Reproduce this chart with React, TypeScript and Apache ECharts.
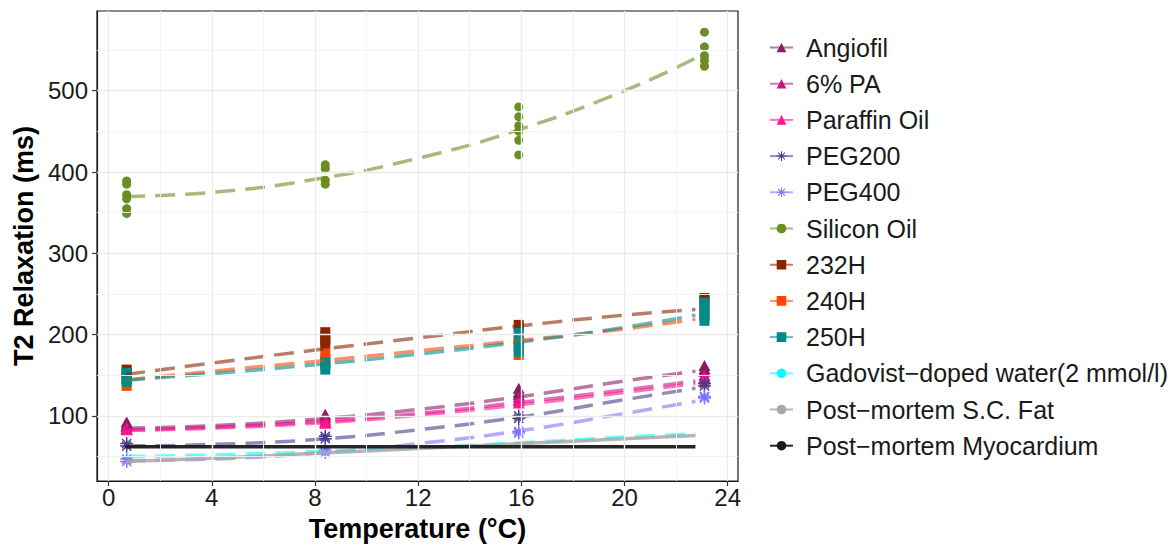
import React, { useEffect, useRef } from "react";
import * as echarts from "echarts";

// ---------- data ----------
const temps = [0.7, 8.4, 15.9, 23.1];
const fitX = [0.65, 4, 8, 12, 16, 20, 22.75];

const xTicks = [0, 4, 8, 12, 16, 20, 24];
const xMinor = [2, 6, 10, 14, 18, 22];
const yTicks = [100, 200, 300, 400, 500];
const yMinor = [50, 150, 250, 350, 450, 550];

// replicate measurements per temperature
const angiofilPts = [[93, 90, 88], [102, 99], [134, 129, 126], [162, 158, 155]];
const pa6Pts = [[87, 85], [96, 93], [123, 120], [150, 147]];
const paraffinPts = [[84, 83], [93, 91], [119, 116], [146, 143]];
const peg200Pts = [[66, 63], [75, 72], [100, 97], [140, 137]];
const peg400Pts = [[47, 44], [58, 55], [81, 79], [124, 122]];
const siliconPts = [
  [389, 385, 372, 367, 355, 349],
  [409, 404, 390, 385],
  [480, 468, 457, 450, 439, 421],
  [572, 554, 543, 537, 530],
];
const h232Pts = [[157, 153], [203, 198, 193, 188], [212, 209], [245, 242]];
const h240Pts = [[137, 145], [177, 170, 165], [175, 185, 192], [230, 222]];
const h250Pts = [[153, 149, 145, 142], [166, 162, 157], [202, 195, 187, 179], [239, 232, 225, 217]];

// fitted curves sampled at fitX
const angiofilFit = [85, 88, 96, 108, 124, 143, 155];
const pa6Fit = [83, 86, 93, 103, 117, 132, 143];
const paraffinFit = [82, 85, 91, 101, 114, 129, 140];
const peg200Fit = [63, 65, 71, 83, 99, 120, 134];
const peg400Fit = [45, 47, 54, 66, 82, 103, 118];
const siliconFit = [370, 375, 391, 417, 453, 500, 540];
const h232Fit = [151, 165, 181, 196, 211, 224, 231];
const h240Fit = [144, 155, 167, 180, 193, 207, 219];
const h250Fit = [144, 152, 163, 176, 191, 209, 224];
const gadovistFit = [50, 52, 56, 61, 67, 74, 78];
const fatFit = [44, 48, 54, 60, 66, 72, 76];
const myocardiumFit = [62, 62, 62, 62, 62, 62, 62];

const STAR =
  "path://M10.7 0H13.3V24H10.7Z M0 10.7H24V13.3H0Z M4.42 2.58L21.42 19.58L19.58 21.42L2.58 4.42Z M21.42 4.42L4.42 21.42L2.58 19.58L19.58 2.58Z";

type Mat = {
  name: string;
  color: string;
  symbol: string;
  size: number | number[];
  pts: number[][] | null;
  fit: number[];
  dashed: boolean;
  lineOpacity: number;
};

const materials: Mat[] = [
  { name: "Angiofil", color: "#8B1C62", symbol: "triangle", size: [12, 11], pts: angiofilPts, fit: angiofilFit, dashed: true, lineOpacity: 0.6 },
  { name: "6% PA", color: "#C71585", symbol: "triangle", size: [12, 11], pts: pa6Pts, fit: pa6Fit, dashed: true, lineOpacity: 0.6 },
  { name: "Paraffin Oil", color: "#FF1493", symbol: "triangle", size: [12, 11], pts: paraffinPts, fit: paraffinFit, dashed: true, lineOpacity: 0.6 },
  { name: "PEG200", color: "#483D8B", symbol: STAR, size: 13, pts: peg200Pts, fit: peg200Fit, dashed: true, lineOpacity: 0.6 },
  { name: "PEG400", color: "#8470FF", symbol: STAR, size: 13, pts: peg400Pts, fit: peg400Fit, dashed: true, lineOpacity: 0.6 },
  { name: "Silicon Oil", color: "#6B8E23", symbol: "circle", size: 9, pts: siliconPts, fit: siliconFit, dashed: true, lineOpacity: 0.6 },
  { name: "232H", color: "#8B2500", symbol: "rect", size: 10, pts: h232Pts, fit: h232Fit, dashed: true, lineOpacity: 0.6 },
  { name: "240H", color: "#FF4500", symbol: "rect", size: 10, pts: h240Pts, fit: h240Fit, dashed: true, lineOpacity: 0.6 },
  { name: "250H", color: "#008B8B", symbol: "rect", size: 10, pts: h250Pts, fit: h250Fit, dashed: true, lineOpacity: 0.6 },
  { name: "Gadovist\u2212doped water(2 mmol/l)", color: "#00FFFF", symbol: "circle", size: 6, pts: null, fit: gadovistFit, dashed: true, lineOpacity: 0.6 },
  { name: "Post\u2212mortem S.C. Fat", color: "#A9A9A9", symbol: "circle", size: 6, pts: null, fit: fatFit, dashed: false, lineOpacity: 0.85 },
  { name: "Post\u2212mortem Myocardium", color: "#1A1A1A", symbol: "circle", size: 6, pts: null, fit: myocardiumFit, dashed: false, lineOpacity: 0.95 },
];

const FONT = "'Liberation Sans', Arial, Helvetica, sans-serif";

export default function App() {
  const ref = useRef<HTMLDivElement>(null);
  useEffect(() => {
    if (!ref.current) return;
    const chart = echarts.init(ref.current, null, { renderer: "svg" });

    const series: any[] = [];
    // gridlines
    const major = { color: "#EBEBEB", width: 1.4, type: "solid" };
    const minor = { color: "#F2F2F2", width: 0.9, type: "solid" };
    series.push({
      type: "line",
      name: "__grid",
      data: [],
      z: 0,
      silent: true,
      markLine: {
        silent: true,
        symbol: "none",
        animation: false,
        label: { show: false },
        emphasis: { disabled: true },
        data: [
          ...xMinor.map((v) => ({ xAxis: v, lineStyle: minor })),
          ...yMinor.map((v) => ({ yAxis: v, lineStyle: minor })),
          ...xTicks.map((v) => ({ xAxis: v, lineStyle: major })),
          ...yTicks.map((v) => ({ yAxis: v, lineStyle: major })),
        ],
      },
    });

    materials.forEach((m) => {
      series.push({
        type: "line",
        name: m.name,
        data: fitX.map((x, i) => [x, m.fit[i]]),
        smooth: true,
        showSymbol: false,
        symbol: m.symbol,
        symbolSize: m.size,
        itemStyle: { color: m.color },
        lineStyle: {
          color: m.color,
          width: 3.5,
          opacity: m.lineOpacity,
          type: m.dashed ? [20, 10] : "solid",
          cap: "butt",
        },
        emphasis: { disabled: true },
        z: 3,
      });
    });
    materials.forEach((m) => {
      if (!m.pts) return;
      const data: number[][] = [];
      m.pts.forEach((arr, i) => arr.forEach((v) => data.push([temps[i], v])));
      series.push({
        type: "scatter",
        name: m.name,
        data,
        symbol: m.symbol,
        symbolSize: m.size,
        itemStyle: { color: m.color, opacity: 1 },
        emphasis: { disabled: true },
        z: 2,
      });
    });

    chart.setOption({
      animation: false,
      backgroundColor: "#ffffff",
      textStyle: { fontFamily: FONT },
      grid: {
        left: 97,
        top: 11,
        width: 641,
        height: 470,
        show: true,
        borderColor: "#1A1A1A",
        borderWidth: 1.2,
        backgroundColor: "transparent",
      },
      xAxis: {
        type: "value",
        min: -0.45,
        max: 24.4,
        name: "Temperature (°C)",
        nameLocation: "middle",
        nameGap: 34,
        nameTextStyle: { fontSize: 27, fontWeight: "bold", color: "#000", fontFamily: FONT },
        axisLine: { show: true, onZero: false, lineStyle: { color: "#1A1A1A", width: 1.2 } },
        axisTick: { show: true, length: 5, customValues: xTicks, lineStyle: { color: "#333", width: 1.2 } },
        axisLabel: { customValues: xTicks, fontSize: 24, color: "#1A1A1A", margin: 4, fontFamily: FONT },
        splitLine: { show: false },
      },
      yAxis: {
        type: "value",
        min: 20,
        max: 598,
        name: "T2 Relaxation (ms)",
        nameLocation: "middle",
        nameRotate: 90,
        nameGap: 56,
        nameTextStyle: { fontSize: 27, fontWeight: "bold", color: "#000", fontFamily: FONT },
        axisLine: { show: true, onZero: false, lineStyle: { color: "#1A1A1A", width: 1.2 } },
        axisTick: { show: true, length: 5, customValues: yTicks, lineStyle: { color: "#333", width: 1.2 } },
        axisLabel: { customValues: yTicks, fontSize: 24, color: "#1A1A1A", margin: 9, fontFamily: FONT },
        splitLine: { show: false },
      },
      legend: {
        orient: "vertical",
        left: 764,
        top: 29.5,
        itemWidth: 23,
        itemHeight: 12,
        itemGap: 10.2,
        selectedMode: false,
        data: materials.map((m) => m.name),
        lineStyle: { type: "solid" },
        textStyle: { fontSize: 25, color: "#1A1A1A", fontFamily: FONT, lineHeight: 26, padding: [0, 0, 0, 8] },
      },
      series,
    });
    return () => chart.dispose();
  }, []);
  return (
    <div
      ref={ref}
      style={{ position: "fixed", left: 0, top: 0, width: 1173, height: 547, background: "#fff" }}
    />
  );
}
